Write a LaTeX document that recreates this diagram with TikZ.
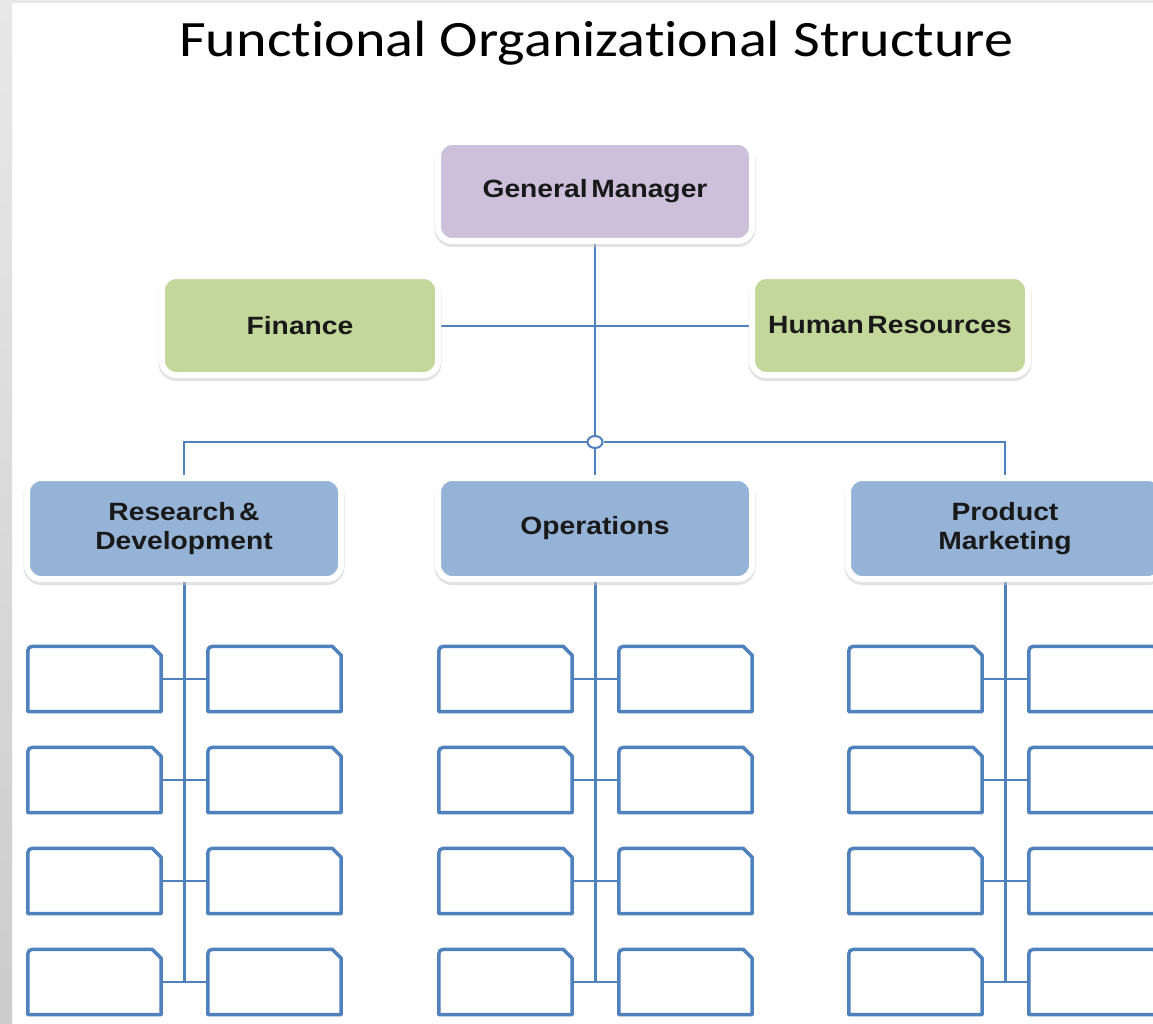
\documentclass[tikz,border=0pt]{standalone}
\usepackage{fontspec}
\setmainfont{Liberation Sans}
\newfontfamily\titlefont{Carlito}[Ligatures=NoCommon,FakeStretch=1.14]
\newfontfamily\boxfont{Liberation Sans}[FakeStretch=1.13,WordSpace=0.45]
\usetikzlibrary{shadows,backgrounds,shapes.geometric}
\definecolor{lineblue}{HTML}{4F81BD}
\definecolor{gmfill}{HTML}{CCC0DA}
\definecolor{greenfill}{HTML}{C4D79B}
\definecolor{bluefill}{HTML}{95B3D7}
\tikzset{
  topbox/.style={rounded corners=14pt, draw=white, line width=6pt, inner sep=0pt,
    text=black!90, align=center,
    font=\boxfont\bfseries\fontsize{25}{29}\selectfont,
    drop shadow={shadow xshift=0pt, shadow yshift=-2.5pt, fill=black!22, draw=black!22, line width=7pt}},
  gmbox/.style={topbox, fill=gmfill, minimum width=314pt, minimum height=99pt},
  staffbox/.style={topbox, fill=greenfill, minimum width=276pt, minimum height=99pt},
  deptbox/.style={topbox, fill=bluefill, minimum width=314pt, minimum height=101pt},
  slot/.style={minimum width=133pt, minimum height=65pt, inner sep=0pt, draw=none},
  slotborder/.style={draw=lineblue, line width=3.5pt, fill=white, line join=round},
  mainline/.style={draw=lineblue, line width=2.2pt},
  staffline/.style={draw=lineblue, line width=2pt},
  deptline/.style={draw=lineblue, line width=3pt},
  slotline/.style={draw=lineblue, line width=1.6pt},
  junction/.style={ellipse, draw=lineblue, line width=2pt, fill=white, minimum width=15pt, minimum height=12pt, inner sep=0pt}
}
\newcommand\slotshape[1]{%
  \path[slotborder] (#1.south west) -- ([yshift=-10pt]#1.north west)
    .. controls (#1.north west) .. ([xshift=10pt]#1.north west)
    -- ([xshift=-9pt]#1.north east) -- ([yshift=-9pt]#1.north east)
    -- (#1.south east) -- cycle;}
\begin{document}
\begin{tikzpicture}[x=1pt,y=-1pt]
\useasboundingbox (0,0) rectangle (1153,1024);
\begin{pgfonlayer}{background}
\fill[white] (0,0) rectangle (1153,1024);
\end{pgfonlayer}
\fill[black!9] (0,0) rectangle (1153,3);
\shade[top color=black!9, bottom color=black!20] (0,0) rectangle (12,1024);
\clip (0,0) rectangle (1153,1024);

\node[font=\titlefont\fontsize{51}{60}\selectfont, text=black, anchor=base] (title) at (596.5,57) {Functional Organizational Structure};

\node[gmbox] (gm) at (595,191.5) {General Manager};
\node[staffbox] (fin) at (300,325.5) {Finance};
\node[staffbox] (hr) at (890,325.5) {Human Resources};
\node[junction] (j) at (595,442) {};
\node[deptbox] (rd) at (184,528.5) {Research \&\\Development};
\node[deptbox] (op) at (595,528.5) {Operations};
\node[deptbox] (pm) at (1005,528.5) {Product\\Marketing};

\begin{pgfonlayer}{background}
\draw[mainline] (gm.south) -- (j.north);
\draw[staffline] (fin.east) -- (hr.west);
\draw[mainline] (j.west) -| (rd.north);
\draw[mainline] (j.east) -| (pm.north);
\draw[mainline] (j.south) -- (op.north);
\end{pgfonlayer}

\foreach \g/\gx in {rd/184, op/595, pm/1005}{
  \coordinate (\g end) at (\gx,982);
  \begin{pgfonlayer}{background}
  \draw[deptline] (\g.south) -- (\g end);
  \end{pgfonlayer}
  \foreach \r/\ry in {1/679,2/780,3/881,4/982}{
    \node[slot] (\g L\r) at (\gx-89.5,\ry) {};
    \node[slot] (\g R\r) at (\gx+90.5,\ry) {};
    \slotshape{\g L\r}
    \slotshape{\g R\r}
    \begin{pgfonlayer}{background}
    \draw[slotline] (\g L\r.east) -- (\g R\r.west);
    \end{pgfonlayer}
  }
}
\end{tikzpicture}
\end{document}
